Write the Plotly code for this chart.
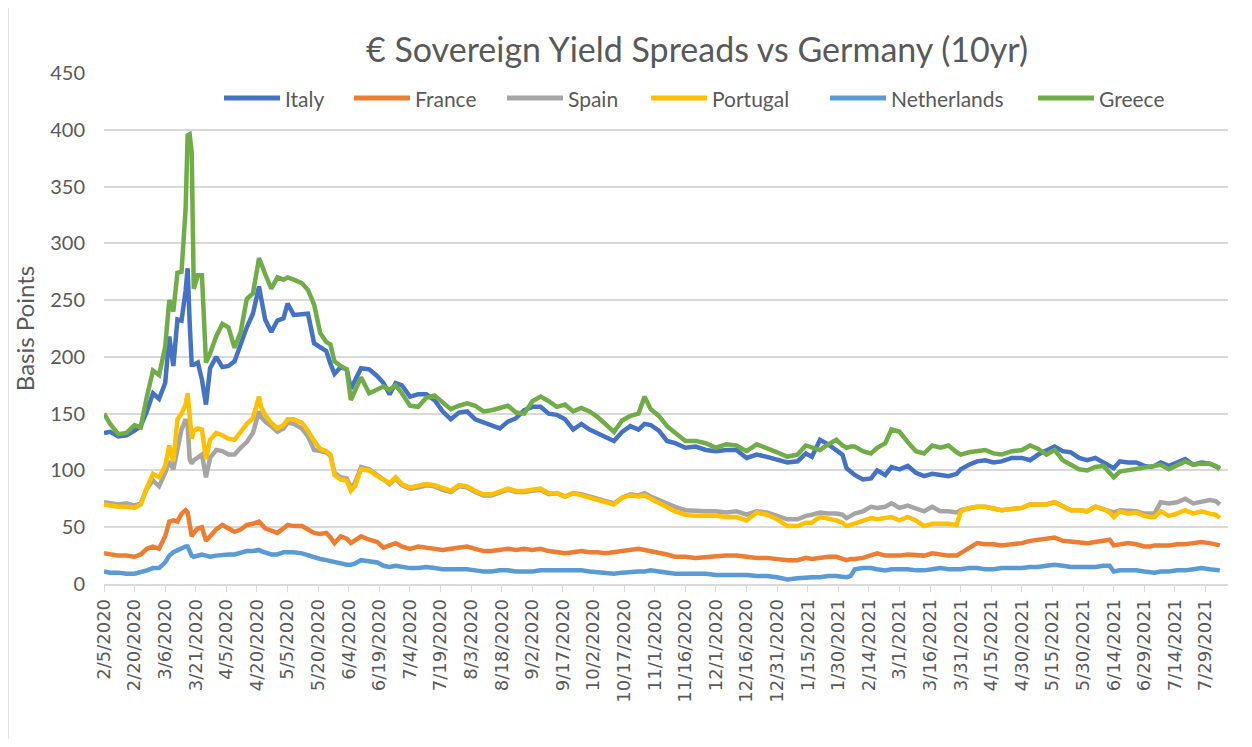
import pandas as pd
import plotly.graph_objects as go

# ── Data (bp spread vs Bund) ──────────────────────────────────────────────────
DATES = [
    "2020-02-05", "2020-02-08", "2020-02-12", "2020-02-16", "2020-02-20", "2020-02-23", "2020-02-26", "2020-02-29", "2020-03-03", "2020-03-06",
    "2020-03-08", "2020-03-10", "2020-03-12", "2020-03-14", "2020-03-16", "2020-03-17", "2020-03-18", "2020-03-19", "2020-03-20", "2020-03-22",
    "2020-03-24", "2020-03-26", "2020-03-28", "2020-03-31", "2020-04-03", "2020-04-06", "2020-04-09", "2020-04-12", "2020-04-15", "2020-04-18",
    "2020-04-21", "2020-04-22", "2020-04-24", "2020-04-27", "2020-04-30", "2020-05-03", "2020-05-05", "2020-05-08", "2020-05-12", "2020-05-15",
    "2020-05-18", "2020-05-21", "2020-05-24", "2020-05-26", "2020-05-28", "2020-05-31", "2020-06-03", "2020-06-05", "2020-06-07", "2020-06-10",
    "2020-06-14", "2020-06-18", "2020-06-21", "2020-06-24", "2020-06-27", "2020-06-30", "2020-07-04", "2020-07-08", "2020-07-12", "2020-07-16",
    "2020-07-20", "2020-07-24", "2020-07-28", "2020-08-01", "2020-08-05", "2020-08-09", "2020-08-13", "2020-08-17", "2020-08-21", "2020-08-25",
    "2020-08-29", "2020-09-02", "2020-09-06", "2020-09-10", "2020-09-14", "2020-09-18", "2020-09-22", "2020-09-26", "2020-09-30", "2020-10-04",
    "2020-10-08", "2020-10-12", "2020-10-16", "2020-10-20", "2020-10-24", "2020-10-27", "2020-10-30", "2020-11-03", "2020-11-07", "2020-11-11",
    "2020-11-16", "2020-11-21", "2020-11-26", "2020-12-01", "2020-12-06", "2020-12-11", "2020-12-16", "2020-12-21", "2020-12-26", "2020-12-31",
    "2021-01-05", "2021-01-10", "2021-01-14", "2021-01-17", "2021-01-21", "2021-01-25", "2021-01-29", "2021-02-01", "2021-02-03", "2021-02-05",
    "2021-02-07", "2021-02-11", "2021-02-15", "2021-02-18", "2021-02-22", "2021-02-25", "2021-03-01", "2021-03-05", "2021-03-09", "2021-03-13",
    "2021-03-17", "2021-03-21", "2021-03-25", "2021-03-29", "2021-03-31", "2021-04-04", "2021-04-08", "2021-04-12", "2021-04-16", "2021-04-20",
    "2021-04-25", "2021-04-30", "2021-05-04", "2021-05-08", "2021-05-12", "2021-05-16", "2021-05-20", "2021-05-24", "2021-05-28", "2021-06-01",
    "2021-06-05", "2021-06-09", "2021-06-12", "2021-06-14", "2021-06-17", "2021-06-21", "2021-06-25", "2021-06-29", "2021-07-02", "2021-07-04",
    "2021-07-07", "2021-07-11", "2021-07-15", "2021-07-19", "2021-07-23", "2021-07-27", "2021-07-31", "2021-08-03", "2021-08-05",
]

ITALY = [
    133, 134, 130, 131, 135, 139, 152, 168, 163, 177,
    218, 192, 233, 232, 258, 278, 230, 193, 193, 195,
    180, 158, 190, 200, 191, 192, 196, 212, 226, 238,
    262, 252, 233, 222, 232, 234, 247, 237, 238, 238,
    212, 208, 205, 194, 185, 191, 189, 172, 180, 190,
    189, 183, 177, 167, 177, 175, 165, 167, 167, 162,
    152, 145, 151, 152, 145, 142, 140, 137, 143, 146,
    153, 156, 156, 150, 149, 145, 136, 141, 136, 133,
    130, 126, 134, 139, 136, 141, 140, 135, 126, 124,
    120, 121, 118, 117, 118, 118, 111, 114, 112, 110,
    107, 108, 115, 112, 127, 123, 118, 114, 102, 99,
    96, 92, 93, 100, 96, 103, 101, 104, 98, 95,
    97, 96, 95, 97, 101, 105, 108, 109, 107, 108,
    111, 111, 109, 114, 118, 121, 117, 116, 111, 109,
    111, 107, 104, 102, 108, 107, 107, 104, 103, 104,
    107, 104, 107, 110, 105, 107, 106, 104, 102,
]

FRANCE = [
    27, 26, 25, 25, 24, 26, 31, 33, 31, 42,
    55, 56, 55, 62, 65, 63, 50, 42, 45, 49,
    50, 38, 42, 48, 52, 49, 46, 48, 52, 53,
    55, 53, 49, 47, 45, 49, 52, 51, 51, 48,
    45, 44, 45, 41, 36, 42, 40, 36, 38, 42,
    39, 37, 32, 34, 36, 33, 31, 33, 32, 31,
    30, 31, 32, 33, 31, 29, 29, 30, 31, 30,
    31, 30, 31, 29, 28, 27, 28, 29, 28, 28,
    27, 28, 29, 30, 31, 30, 29, 28, 26, 24,
    24, 23, 24, 24, 25, 25, 24, 23, 23, 22,
    21, 21, 23, 22, 23, 24, 24, 22, 21, 22,
    22, 23, 25, 27, 25, 25, 25, 26, 25, 25,
    27, 26, 25, 25, 27, 32, 36, 35, 35, 34,
    35, 36, 38, 39, 40, 41, 38, 37, 36, 36,
    37, 38, 39, 34, 35, 36, 35, 33, 33, 34,
    34, 34, 35, 35, 36, 37, 36, 35, 34,
]

SPAIN = [
    72, 71, 70, 71, 69, 71, 84, 91, 86, 98,
    108, 101, 118, 136, 145, 140, 110, 106, 109, 112,
    114, 94, 111, 118, 117, 114, 114, 120, 125, 133,
    152, 147, 143, 139, 134, 137, 142, 141, 137, 130,
    118, 117, 116, 113, 98, 94, 93, 85, 89, 103,
    101, 96, 92, 88, 93, 87, 84, 85, 87, 86,
    83, 81, 86, 85, 81, 78, 78, 80, 83, 81,
    81, 82, 83, 79, 80, 77, 80, 79, 77, 76,
    73, 71, 76, 79, 78, 80, 77, 74, 70, 68,
    65, 64, 64, 64, 63, 64, 61, 64, 63, 60,
    57, 57, 60, 61, 63, 62, 62, 61, 58, 60,
    62, 64, 68, 67, 68, 71, 67, 69, 67, 64,
    68, 64, 64, 63, 65, 67, 68, 68, 66, 65,
    66, 67, 70, 70, 70, 72, 68, 65, 65, 64,
    68, 66, 64, 63, 65, 64, 64, 62, 62, 62,
    72, 71, 72, 75, 71, 73, 74, 73, 70,
]

PORTUGAL = [
    70, 69, 68, 68, 67, 70, 85, 97, 94, 104,
    122, 108, 145, 150, 158, 168, 150, 128, 135, 137,
    136, 110, 127, 133, 131, 128, 127, 134, 141, 146,
    165, 156, 149, 142, 137, 140, 145, 145, 142, 135,
    126, 119, 117, 114, 96, 92, 91, 82, 86, 101,
    100, 95, 92, 89, 94, 88, 85, 86, 88, 87,
    84, 82, 87, 86, 82, 79, 79, 81, 84, 82,
    82, 83, 84, 80, 80, 77, 80, 78, 76, 75,
    72, 70, 76, 78, 77, 78, 75, 71, 67, 64,
    61, 60, 60, 60, 59, 59, 56, 63, 61, 57,
    51, 51, 54, 54, 59, 58, 56, 54, 51, 52,
    53, 55, 58, 57, 58, 59, 56, 59, 56, 51,
    53, 53, 53, 52, 64, 67, 68, 68, 66, 65,
    66, 67, 70, 70, 70, 72, 68, 65, 65, 64,
    68, 66, 63, 59, 64, 62, 63, 60, 59, 59,
    64, 60, 62, 65, 62, 64, 62, 61, 58,
]

NETHERLANDS = [
    11, 10, 10, 9, 9, 10, 12, 14, 14, 19,
    25, 28, 30, 32, 33, 33, 28, 25, 24, 25,
    26, 25, 24, 25, 26, 26, 26, 28, 29, 29,
    30, 29, 28, 26, 26, 28, 28, 28, 27, 25,
    23, 22, 21, 20, 20, 18, 17, 17, 18, 21,
    20, 19, 16, 15, 16, 15, 14, 14, 15, 14,
    13, 13, 13, 13, 12, 11, 11, 12, 12, 11,
    11, 11, 12, 12, 12, 12, 12, 12, 11, 10,
    9, 9, 10, 11, 11, 11, 12, 11, 10, 9,
    9, 9, 9, 8, 8, 8, 8, 7, 7, 6,
    4, 5, 6, 6, 6, 7, 7, 6, 6, 7,
    13, 14, 14, 13, 12, 13, 13, 13, 12, 12,
    13, 14, 13, 13, 13, 14, 14, 13, 13, 14,
    14, 14, 15, 15, 16, 17, 16, 15, 15, 15,
    15, 16, 16, 11, 12, 12, 12, 11, 10, 10,
    11, 11, 12, 12, 13, 14, 13, 12, 12,
]

GREECE = [
    150, 141, 132, 133, 140, 138, 165, 188, 184, 209,
    250, 240, 274, 275, 330, 395, 396, 380, 260, 272,
    272, 195, 203, 218, 229, 226, 208, 222, 251, 256,
    287, 283, 273, 260, 270, 268, 270, 268, 265, 259,
    246, 221, 213, 211, 196, 192, 189, 162, 171, 182,
    168, 172, 174, 171, 175, 168, 157, 156, 164, 166,
    160, 154, 157, 159, 157, 152, 153, 155, 157, 151,
    150, 161, 165, 161, 156, 158, 152, 155, 152, 147,
    140, 134, 144, 148, 150, 165, 154, 148, 139, 133,
    126, 126, 124, 120, 123, 122, 117, 123, 120, 116,
    112, 114, 122, 120, 118, 123, 127, 122, 120, 121,
    121, 117, 115, 120, 124, 136, 134, 125, 117, 115,
    122, 120, 122, 116, 114, 116, 117, 118, 115, 114,
    117, 118, 122, 119, 114, 118, 109, 105, 101, 100,
    103, 104, 98, 94, 99, 100, 101, 102, 103, 104,
    105, 101, 105, 108, 105, 106, 106, 104, 101,
]

SERIES = [
    ("Italy", ITALY, "#4472C4"),
    ("France", FRANCE, "#ED7D31"),
    ("Spain", SPAIN, "#A5A5A5"),
    ("Portugal", PORTUGAL, "#FFC000"),
    ("Netherlands", NETHERLANDS, "#5B9BD5"),
    ("Greece", GREECE, "#70AD47"),
]

TEXT_GREY = "#595959"
GRID_GREY = "#D9D9D9"
FONT = "Lato, 'Open Sans', sans-serif"

# page body adds an 8px offset, so the figure is a bit smaller than the window
W, H = 1236, 731
M_L, M_R, M_T, M_B = 96, 16, 65, 155
PLOT_W = W - M_L - M_R
PLOT_H = H - M_T - M_B

fig = go.Figure()
for name, values, color in SERIES:
    fig.add_trace(go.Scatter(
        x=pd.to_datetime(DATES), y=values, name=name, mode="lines",
        line=dict(color=color, width=4.5), showlegend=False,
    ))

# Excel-style legend: long line swatches; left edge of each entry (px from plot left)
LEGEND_LEFT = [120, 250, 403, 547, 726, 934]
for (name, _, color), left in zip(SERIES, LEGEND_LEFT):
    x0 = left / PLOT_W
    x1 = (left + 56) / PLOT_W
    fig.add_shape(type="line", xref="paper", yref="paper",
                  x0=x0, x1=x1, y0=0.951, y1=0.951,
                  line=dict(color=color, width=5))
    fig.add_annotation(xref="paper", yref="paper", x=x1 + 3 / PLOT_W, y=0.951,
                       text=name, showarrow=False, xanchor="left", yanchor="middle",
                       font=dict(size=21, color=TEXT_GREY, family=FONT))

# tick every 15 days, like the Excel date axis
tick_dates = pd.date_range("2020-02-05", "2021-07-29", freq="15D")

fig.update_layout(
    width=W, height=H,
    paper_bgcolor="white", plot_bgcolor="white",
    font=dict(family=FONT, color=TEXT_GREY),
    margin=dict(l=M_L, r=M_R, t=M_T, b=M_B),
    title=dict(
        text="€ Sovereign Yield Spreads vs Germany (10yr)",
        x=0.5575, xanchor="center", y=0.9425, yanchor="middle",
        font=dict(size=34, color=TEXT_GREY, family=FONT),
    ),
    showlegend=False,
)

fig.update_xaxes(
    type="date", range=["2020-02-05", "2021-08-09"],
    tickvals=tick_dates, tickformat="%-m/%-d/%Y", tickangle=-90,
    tickfont=dict(size=18, color=TEXT_GREY, family="'DejaVu Sans', sans-serif"),
    ticks="outside", ticklen=6, tickcolor=GRID_GREY, tickwidth=1,
    showline=True, linecolor=GRID_GREY, linewidth=1.5,
    showgrid=False, zeroline=False,
)
fig.update_yaxes(
    range=[0, 450], dtick=50,
    tickfont=dict(size=20, color=TEXT_GREY),
    ticks="outside", ticklen=14, tickcolor="rgba(0,0,0,0)",
    showgrid=True, gridcolor=GRID_GREY, gridwidth=1.5,
    zeroline=False, showline=False,
    title=dict(text="Basis Points", font=dict(size=24, color=TEXT_GREY), standoff=8),
)

# chart-area border visible on the left edge of the screenshot
fig.add_shape(type="line", xref="paper", yref="paper",
              x0=-M_L / PLOT_W, x1=-M_L / PLOT_W, y0=-0.4, y1=1.2,
              line=dict(color=GRID_GREY, width=1.5))

fig.write_html("out.html")
